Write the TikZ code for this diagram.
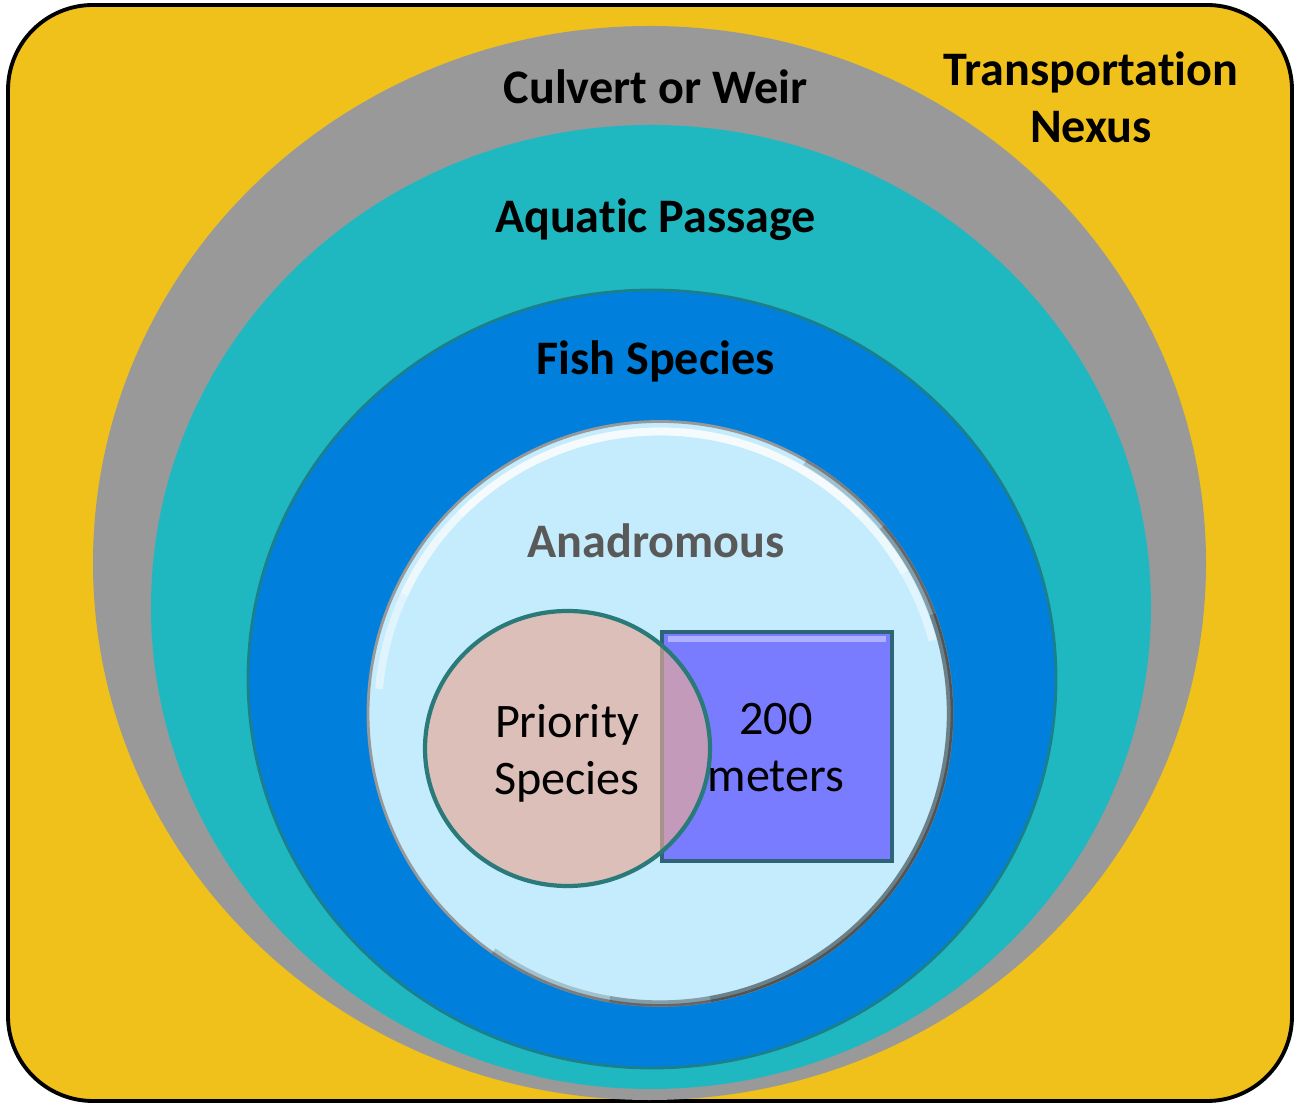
\documentclass[tikz,border=0pt]{standalone}
\usepackage{fontspec}
\setmainfont[Ligatures=NoCommon]{Carlito}
\definecolor{jaune}{RGB}{240,193,26}
\definecolor{gris}{RGB}{153,153,153}
\definecolor{turquoise}{RGB}{31,184,192}
\definecolor{bleu}{RGB}{0,128,220}
\definecolor{bordbleu}{RGB}{26,128,140}
\definecolor{bleuclair}{RGB}{197,236,252}
\definecolor{violetcarre}{RGB}{122,124,255}
\definecolor{bordcarre}{RGB}{46,100,120}
\definecolor{rose}{RGB}{231,170,151}
\definecolor{bordrose}{RGB}{42,122,122}
\definecolor{grisfonce}{RGB}{89,89,89}
\tikzset{
  etiquette/.style={font=\bfseries\fontsize{13.7}{16.2}\selectfont, inner sep=0pt},
  texte/.style={font=\fontsize{13.7}{16.2}\selectfont, inner sep=0pt, align=center}
}
\begin{document}
\begin{tikzpicture}
	\useasboundingbox (0,0) rectangle (12.94,11.03);
	% le fond
	\draw[fill=jaune, line width=1.1pt, rounded corners=0.85cm] (0.08,0.02) rectangle (12.92,10.98);
	% les ellipses
	\fill[gris] (6.495,5.40) ellipse [x radius=5.565, y radius=5.37];
	\fill[turquoise] (6.51,4.96) ellipse [x radius=5.00, y radius=4.82];
	\draw[fill=bleu, draw=bordbleu, line width=0.8pt] (6.52,4.24) ellipse [x radius=4.04, y radius=3.89];
	% le cercle clair
	\coordinate (centre) at (6.60,3.895);
	\draw[fill=bleuclair, draw=black!40, line width=0.8pt] (centre) circle (2.92);
	\foreach \a/\b in {-80/20, -100/40, -125/60}
		\draw[black, opacity=0.18, line width=1.8pt] (centre) ++(\a:2.90) arc[start angle=\a, end angle=\b, radius=2.90];
	\foreach \a/\b in {45/135, 30/155, 15/175}
		\draw[white, opacity=0.45, line width=2.2pt] (centre) ++(\a:2.82) arc[start angle=\a, end angle=\b, radius=2.82];
	% le carré
	\draw[fill=violetcarre, draw=bordcarre, line width=1.2pt] (6.62,2.42) rectangle (8.92,4.71);
	\draw[violetcarre!60!white, line width=1.5pt] (6.68,4.64) -- (8.86,4.64);
	% le cercle rose
	\draw[fill=rose, fill opacity=0.67, draw=bordrose, line width=1.2pt] (5.675,3.545) ellipse [x radius=1.425, y radius=1.375];
	% les textes
	\node[etiquette] (culvert) at (6.555,10.165) {Culvert or Weir};
	\node[etiquette, align=center] (nexus) at (10.91,10.06) {Transportation\\Nexus};
	\node[etiquette] (aquatic) at (6.555,8.835) {Aquatic Passage};
	\node[etiquette] (fish) at (6.555,7.42) {Fish Species};
	\node[etiquette, text=grisfonce] (anadromous) at (6.56,5.625) {Anadromous};
	\node[texte] (priority) at (5.67,3.495) {Priority\\Species};
	\node[texte] (meters) at (7.76,3.55) {200\\meters};
\end{tikzpicture}
\end{document}
